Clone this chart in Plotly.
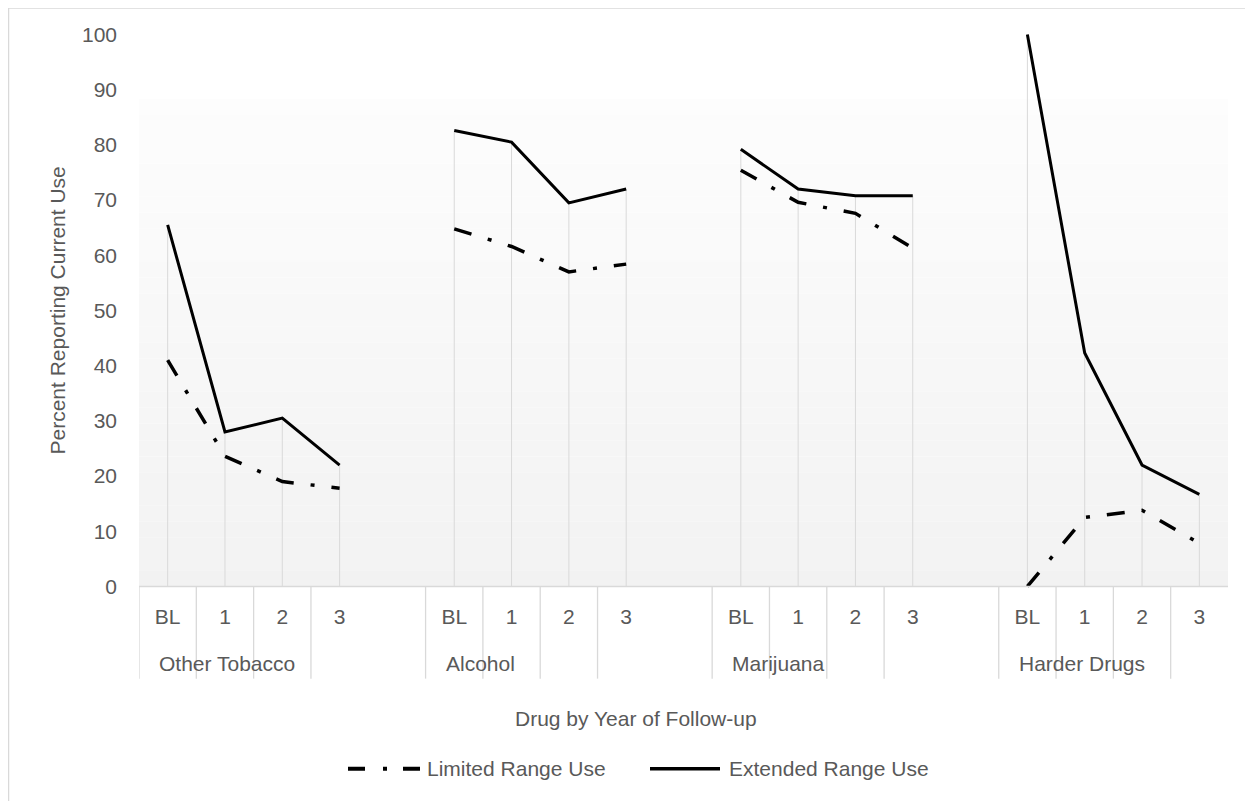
import plotly.graph_objects as go

# ---------------- data ----------------
groups = ["Other Tobacco", "Alcohol", "Marijuana", "Harder Drugs"]
years = ["BL", "1", "2", "3"]
limited = [41.0, 23.6, 19.0, 17.8,
           64.8, 61.6, 57.0, 58.4,
           75.4, 69.6, 67.6, 61.3,
           0.0, 12.5, 13.8, 7.8]
extended = [65.5, 28.0, 30.5, 22.0,
            82.6, 80.5, 69.5, 72.0,
            79.2, 72.0, 70.8, 70.8,
            100.0, 42.3, 22.0, 16.7]
series_names = ["Limited Range Use", "Extended Range Use"]
y_ticks = list(range(0, 101, 10))

# ---------------- layout constants ----------------
OFF = 8  # default page body margin
W, H = 1253 - OFF, 801 - OFF
FONT = "'Liberation Sans', Arial, sans-serif"
FS = 21
TXT = "#595959"
GRID = "#d9d9d9"
slot = len(years) + 1
n_slots = len(groups) * slot - 1
YR = [-1.0, 101.0]
ML = 139 - OFF
PLOT_RIGHT = 1228 - OFF
MR = W - PLOT_RIGHT
PPU = 5.51
PLOT_TOP_PX = (35 - OFF) - PPU
PLOT_BOT_PX = (586 - OFF) + PPU
MT, MB = PLOT_TOP_PX, H - PLOT_BOT_PX
PH = PLOT_BOT_PX - PLOT_TOP_PX
PW = W - ML - MR


def py(p):  # reference-page pixel -> paper y
    return (PLOT_BOT_PX - (p - OFF)) / PH


def px(p):  # reference-page pixel -> paper x
    return ((p - OFF) - ML) / PW


# positions of categories
xs, xl = [], []
for gi, g in enumerate(groups):
    for yi, yv in enumerate(years):
        xs.append(gi * slot + yi)
        xl.append(yv)


def broken(vals):
    X, Y = [], []
    for gi in range(len(groups)):
        for yi in range(len(years)):
            k = gi * len(years) + yi
            X.append(xs[k])
            Y.append(vals[k])
        X.append(None)
        Y.append(None)
    return X, Y


fig = go.Figure()

# drop lines
dx, dy = [], []
for k in range(len(xs)):
    dx += [xs[k], xs[k], None]
    dy += [0, max(limited[k], extended[k]), None]
fig.add_trace(go.Scatter(x=dx, y=dy, mode="lines", line=dict(color=GRID, width=1),
                         hoverinfo="skip", showlegend=False))

X1, Y1 = broken(limited)
fig.add_trace(go.Scatter(x=X1, y=Y1, mode="lines", name=series_names[0],
                         line=dict(color="black", width=3.5, dash="18px,17px,4px,17px"),
                         connectgaps=False, showlegend=False))
X2, Y2 = broken(extended)
fig.add_trace(go.Scatter(x=X2, y=Y2, mode="lines", name=series_names[1],
                         line=dict(color="black", width=3),
                         connectgaps=False, showlegend=False))

shapes = []
# plot area gradient
top_val = (586 - 99) / PPU
nb = 30
for i in range(nb):
    c = round(242 + (253 - 242) * (i + 0.5) / nb)
    shapes.append(dict(type="rect", xref="x", yref="y", x0=-0.5, x1=n_slots - 0.5,
                       y0=top_val * i / nb, y1=top_val * (i + 1) / nb,
                       fillcolor=f"rgb({c},{c},{c})", line=dict(width=0), layer="below"))
# axis line
shapes.append(dict(type="line", xref="x", yref="y", x0=-0.5, x1=n_slots - 0.5, y0=0, y1=0,
                   line=dict(color=GRID, width=1.3)))
# category separators
blank = {gi * slot + len(years) for gi in range(len(groups))}
for k in range(n_slots + 1):
    if k in blank:
        continue
    shapes.append(dict(type="line", xref="x", yref="paper", x0=k - 0.5, x1=k - 0.5,
                       y0=py(586), y1=py(678), line=dict(color=GRID, width=1.3)))
# chart border (top & left)
shapes.append(dict(type="line", xref="paper", yref="paper", x0=px(8.6), x1=px(1300),
                   y0=py(8.6), y1=py(8.6), line=dict(color=GRID, width=1.3)))
shapes.append(dict(type="line", xref="paper", yref="paper", x0=px(8.6), x1=px(8.6),
                   y0=py(8.6), y1=py(850), line=dict(color=GRID, width=1.3)))
# legend symbols
shapes.append(dict(type="line", xref="paper", yref="paper", x0=px(348), x1=px(420),
                   y0=py(768), y1=py(768),
                   line=dict(color="black", width=4, dash="17px,18px,4px,16px")))
shapes.append(dict(type="line", xref="paper", yref="paper", x0=px(650), x1=px(720),
                   y0=py(768), y1=py(768), line=dict(color="black", width=3.5)))

annotations = []
for gi, g in enumerate(groups):
    annotations.append(dict(text=g, xref="x", yref="paper", x=gi * slot - 0.5, xshift=18,
                            y=py(663), xanchor="left", yanchor="middle", showarrow=False,
                            font=dict(family=FONT, size=FS, color=TXT)))
annotations.append(dict(text="Drug by Year of Follow-up", xref="paper", yref="paper",
                        x=px(636), y=py(718), xanchor="center", yanchor="middle",
                        showarrow=False, font=dict(family=FONT, size=FS, color=TXT)))
annotations.append(dict(text="Percent Reporting Current Use", xref="paper", yref="paper",
                        x=px(57), y=py(310.5), xanchor="center", yanchor="middle",
                        textangle=-90, showarrow=False,
                        font=dict(family=FONT, size=FS, color=TXT)))
annotations.append(dict(text=series_names[0], xref="paper", yref="paper", x=px(425),
                        y=py(768), xanchor="left", yanchor="middle", showarrow=False,
                        font=dict(family=FONT, size=FS, color=TXT)))
annotations.append(dict(text=series_names[1], xref="paper", yref="paper", x=px(727),
                        y=py(768), xanchor="left", yanchor="middle", showarrow=False,
                        font=dict(family=FONT, size=FS, color=TXT)))

fig.update_layout(
    width=W, height=H,
    margin=dict(l=ML, r=MR, t=MT, b=MB, pad=0),
    paper_bgcolor="white", plot_bgcolor="white",
    showlegend=False,
    shapes=shapes, annotations=annotations,
    xaxis=dict(range=[-0.5, n_slots - 0.5], tickmode="array", tickvals=xs, ticktext=xl,
               showgrid=False, zeroline=False, showline=False, ticks="",
               ticklabelstandoff=10, automargin=False,
               tickfont=dict(family=FONT, size=FS, color=TXT)),
    yaxis=dict(range=YR, tickmode="array", tickvals=y_ticks,
               showgrid=False, zeroline=False, showline=False, ticks="",
               ticklabelstandoff=21, automargin=False,
               tickfont=dict(family=FONT, size=FS, color=TXT)),
)

fig.write_html("out.html")
